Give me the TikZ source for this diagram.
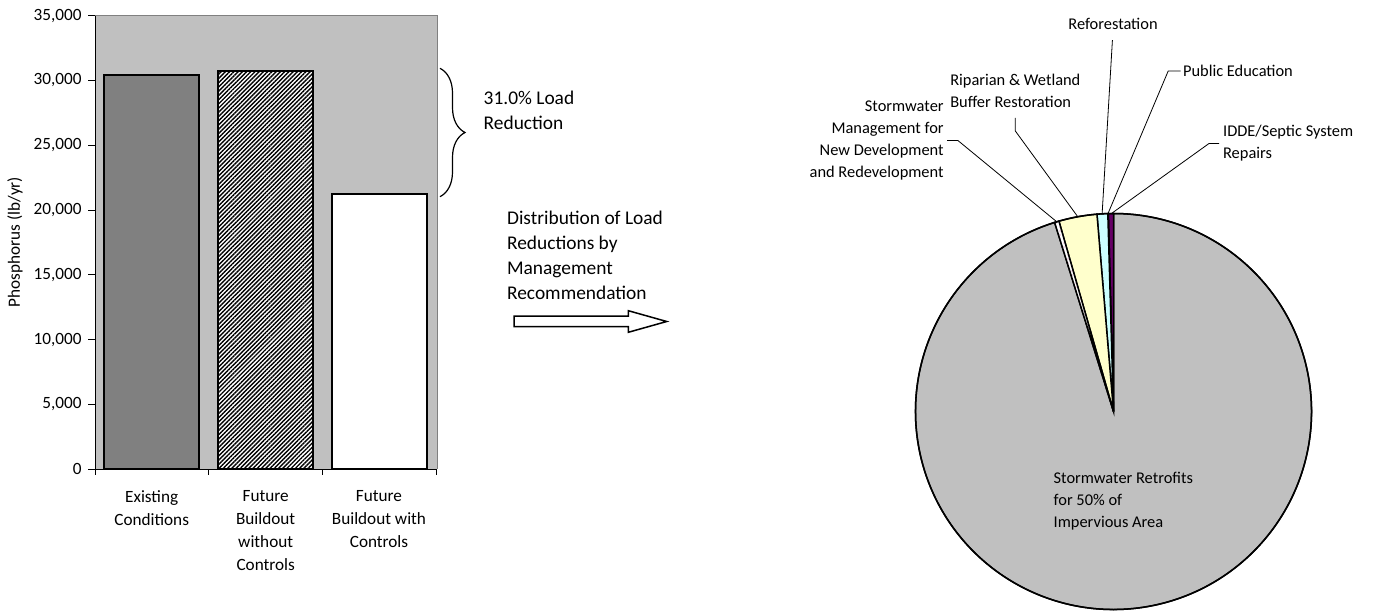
\documentclass[tikz,border=0pt]{standalone}
\usepackage{fontspec}
\setmainfont{Carlito}
\usetikzlibrary{calc,patterns.meta,decorations.pathreplacing}
\definecolor{plotgray}{HTML}{C0C0C0}
\definecolor{bardark}{HTML}{808080}
\definecolor{ripyellow}{HTML}{FFFFCC}
\definecolor{refcyan}{HTML}{CCFFFF}
\definecolor{iddepurple}{HTML}{660066}
\definecolor{dotpink}{HTML}{CC6699}

\begin{document}
\begin{tikzpicture}[x=0.5pt, y=0.5pt,
    axislbl/.style={font=\fontsize{8.6}{11.5}\selectfont, inner sep=0pt},
    boxlbl/.style={font=\fontsize{9.7}{12.5}\selectfont, inner sep=0pt, align=left, anchor=west},
    pielbl/.style={font=\fontsize{8.2}{11}\selectfont, inner sep=0pt},
    bar/.style={draw=black, line width=1pt},
    leader/.style={draw=black, line width=0.4pt},
    slice/.style={draw=black, line width=0.75pt}]

\useasboundingbox (0,0) rectangle (1374,611);

% bar chart
\coordinate (o) at (95,141.7);
\coordinate (tr) at (437,595.3);
\fill[plotgray] (o) rectangle (tr);
\draw[bardark, line width=0.5pt] (tr -| o) -- (tr) -- (o -| tr);
\draw[line width=0.5pt] (tr -| o) -- (o) -- (o -| tr);

\foreach \k/\lab in {0/0, 1/{5,000}, 2/{10,000}, 3/{15,000}, 4/{20,000}, 5/{25,000}, 6/{30,000}, 7/{35,000}} {
    \pgfmathsetmacro\yy{141.7+64.8*\k}
    \draw[line width=0.5pt] (88,\yy) -- (95,\yy);
    \node[axislbl, anchor=east] (yt\k) at (82,\yy) {\lab};
}
\foreach \x in {95,208,322,436}
    \draw[line width=0.5pt] (\x,141.7) -- (\x,135.7);

\draw[bar, fill=bardark] (103.7,141.7) rectangle (199,536.3);
\draw[bar, preaction={fill=white}, pattern={Lines[angle=45,distance=1.5pt,line width=0.7pt]}] (218,141.7) rectangle (313,540.3);
\draw[bar, fill=white] (331.7,141.7) rectangle (427,416.7);

\node[axislbl, rotate=90] (ytitle) at (15,369) {Phosphorus (lb/yr)};
\node[axislbl, align=center, anchor=north] (cat1) at (151.7,121) {Existing\\Conditions};
\node[axislbl, align=center, anchor=north] (cat2) at (265.7,121) {Future\\Buildout\\without\\Controls};
\node[axislbl, align=center, anchor=north] (cat3) at (379,121) {Future\\Buildout with\\Controls};

% brace and arrow
\coordinate (bt) at (440,542.7);
\coordinate (bb) at (440,414.3);
\draw[decorate, decoration={brace, amplitude=12.5pt}, line width=0.6pt] (bt) -- (bb);
\node[boxlbl] (red) at (483.3,500.5) {31.0\% Load\\Reduction};
\node[boxlbl] (dist) at (506.7,355.6) {Distribution of Load\\Reductions by\\Management\\Recommendation};
\draw[line width=0.75pt, fill=white] (514,295) -- (628.3,295) -- (628.3,300.3) -- (666.7,289.5)
    -- (628.3,278.7) -- (628.3,284.3) -- (514,284.3) -- cycle;

% pie
\coordinate (pc) at (1113.5,199.5);
\def\pr{198}
\foreach \a/\b/\col in {107.3/450/plotgray, 90/91.5/iddepurple, 91.5/91.65/white, 91.65/94.8/refcyan, 94.8/106/ripyellow}
    \draw[slice, fill=\col] (pc) -- ($(pc)+(\a:\pr)$) arc[start angle=\a, end angle=\b, radius=\pr] -- cycle;
\draw[slice, preaction={fill=white}, pattern={Dots[distance=2pt,radius=0.35pt]}, pattern color=dotpink]
    (pc) -- ($(pc)+(106:\pr)$) arc[start angle=106, end angle=107.3, radius=\pr] -- cycle;
\draw[slice] (pc) circle[radius=\pr];

\coordinate (rim-idde) at ($(pc)+(90.6:\pr)$);
\coordinate (rim-pub) at ($(pc)+(91.6:\pr)$);
\coordinate (rim-refo) at ($(pc)+(93.3:\pr)$);
\coordinate (rim-rip) at ($(pc)+(100.4:\pr)$);
\coordinate (rim-swm) at ($(pc)+(106.65:\pr)$);

\node[pielbl] (refo) at (1113,587) {Reforestation};
\node[pielbl, anchor=west] (pub) at (1182.7,540) {Public Education};
\node[pielbl, anchor=west, align=left] (idde) at (1222.7,467.5) {IDDE/Septic System\\Repairs};
\node[pielbl, align=left] (rip) at (1015.3,520.2) {Riparian \& Wetland\\Buffer Restoration};
\node[pielbl, anchor=east, align=right] (swm) at (944,470.4) {Stormwater\\Management for\\New Development\\and Redevelopment};
\node[pielbl, anchor=west, align=left] (retro) at (1053.3,110) {Stormwater Retrofits\\for 50\% of\\Impervious Area};

\draw[leader, shorten <=5pt] (refo.south) -- (rim-refo);
\draw[leader, shorten <=1pt] (pub.west) -- ++(-14.5,0) -- (rim-pub);
\draw[leader, shorten <=1.8pt] (idde.west) -- ++(-13.7,0) -- (rim-idde);
\draw[leader] (rip.south) ++(0,-10) -- ++(0,-13) -- (rim-rip);
\draw[leader] (swm.east) ++(3,0) -- ++(11,0) -- (rim-swm);

\end{tikzpicture}
\end{document}
